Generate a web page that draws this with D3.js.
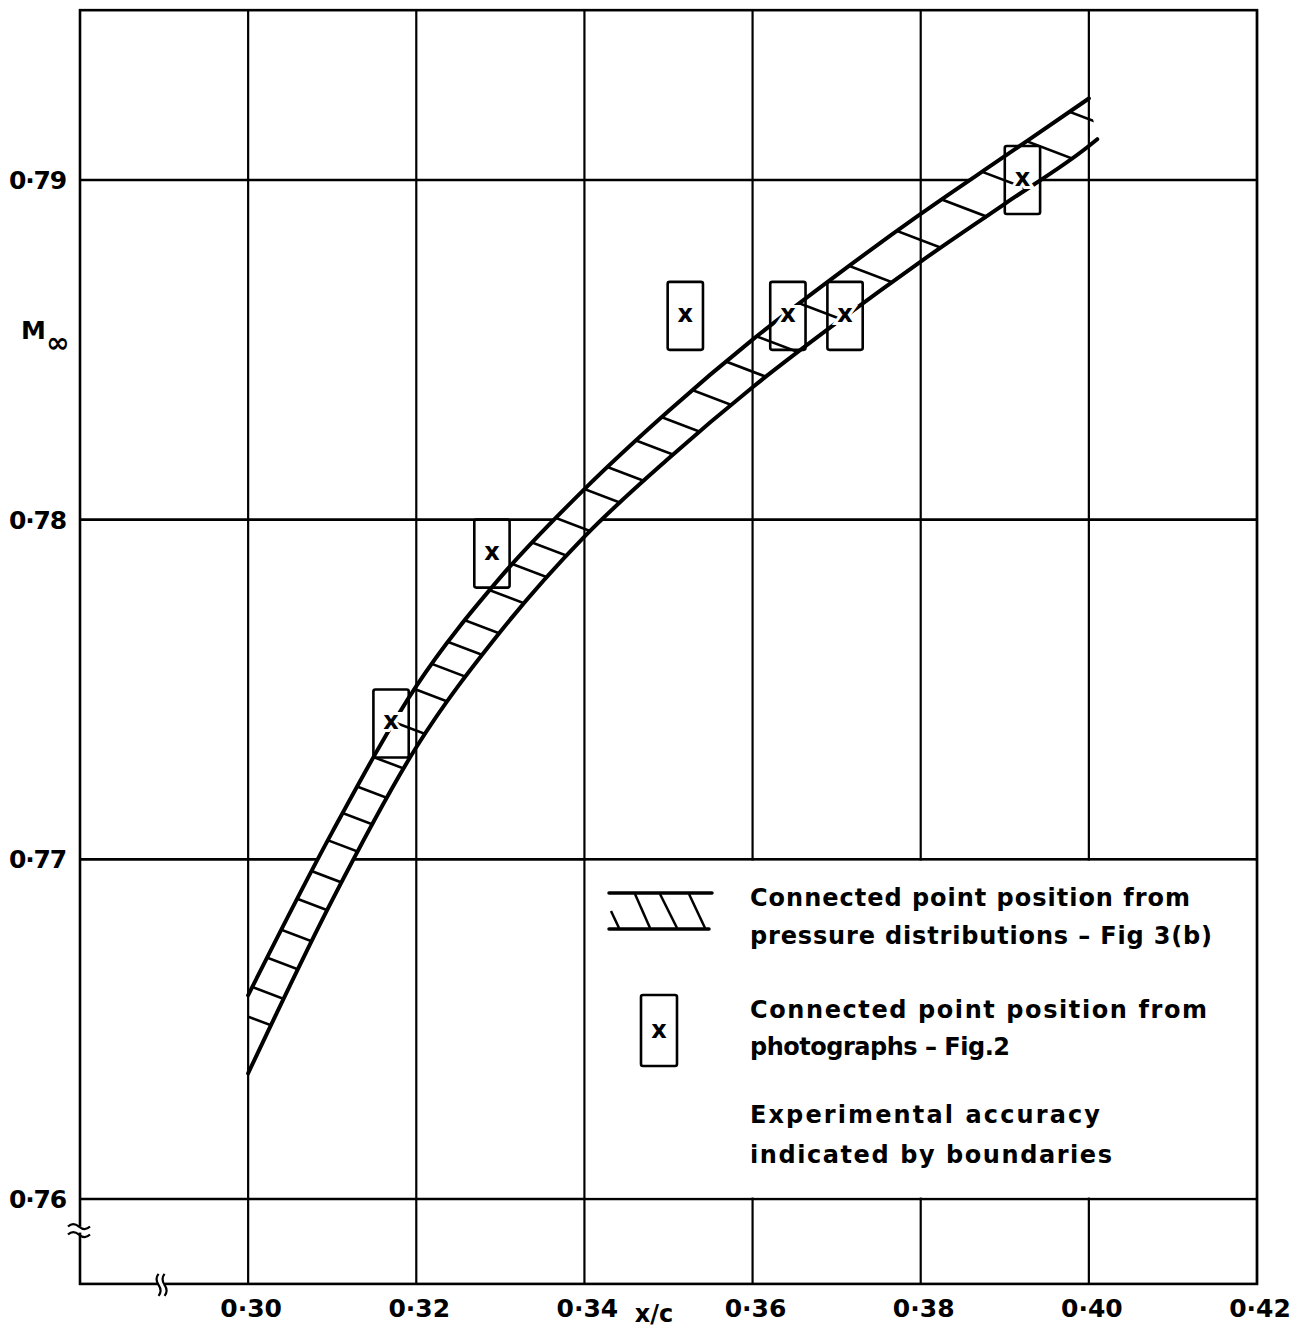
<!DOCTYPE html>
<meta charset="utf-8">
<script src="https://d3js.org/d3.v7.min.js"></script>
<style>
    body { margin: 0; background: #fff; }
    text { font-family: "DejaVu Sans", sans-serif; font-weight: bold; fill: #000; }
</style>
<div id="base"></div>
<script>
    // band from pressure distributions: upper and lower boundary (x/c, M)
    var upperX = [0.30, 0.31, 0.32, 0.33, 0.34, 0.35, 0.36, 0.37, 0.38, 0.39, 0.40];
    var upperM = [0.7660, 0.7708, 0.7751, 0.7783, 0.7809, 0.7832, 0.7853, 0.7872, 0.7890, 0.7907, 0.7924];
    var lowerX = [0.30, 0.31, 0.32, 0.33, 0.34, 0.35, 0.36, 0.37, 0.38, 0.39, 0.40, 0.401];
    var lowerM = [0.7637, 0.7688, 0.7733, 0.7767, 0.7795, 0.7818, 0.7839, 0.7858, 0.7876, 0.7893, 0.7910, 0.7912];

    // points from photographs, box = experimental accuracy
    var photoX = [0.317, 0.329, 0.352, 0.3642, 0.371, 0.3921];
    var photoM = [0.774, 0.779, 0.786, 0.786, 0.786, 0.790];
    var errX = 0.0021, errM = 0.001;

    // where the hatch strokes leave the upper boundary
    var hatchX = [0.2989, 0.3005, 0.3023, 0.3040, 0.3059, 0.3076, 0.3095, 0.3113, 0.3131, 0.3151,
        0.3175, 0.3198, 0.3220, 0.3240, 0.3260, 0.3288, 0.3315, 0.3339, 0.3367, 0.3400, 0.3428,
        0.3462, 0.3492, 0.3529, 0.3569, 0.3605, 0.3656, 0.3715, 0.3772, 0.3825, 0.3873, 0.3926, 0.3977];

    var xTicks = [0.30, 0.32, 0.34, 0.36, 0.38, 0.40, 0.42];
    var xTickLabels = ["0·30", "0·32", "0·34", "0·36", "0·38", "0·40", "0·42"];
    var yTicks = [0.76, 0.77, 0.78, 0.79];
    var yTickLabels = ["0·76", "0·77", "0·78", "0·79"];

    var legendLines = ["Connected point position from", "pressure distributions – Fig 3(b)",
        "Connected point position from", "photographs – Fig.2",
        "Experimental accuracy", "indicated by boundaries"];

    var svg = d3.select("#base")
        .append("svg")
        .attr("width", 1302)
        .attr("height", 1329);

    var x = d3.scaleLinear().domain([0.28, 0.42]).range([80, 1257]);
    var y = d3.scaleLinear().domain([0.76, 0.79]).range([1199, 180]);
    var yLo = 0.7575, yHi = 0.795;

    // layers in drawing order
    var gGridH = svg.append("g"),
        gBand = svg.append("g"),
        gGridV = svg.append("g"),
        gLegBg = svg.append("g"),
        gHatch = svg.append("g"),
        gCurves = svg.append("g"),
        gBoxes = svg.append("g"),
        gFrame = svg.append("g"),
        gText = svg.append("g");

    // grid
    gGridH.selectAll("line").data(yTicks).enter().append("line")
        .attr("x1", x(0.28)).attr("x2", x(0.42))
        .attr("y1", function (d) { return y(d); })
        .attr("y2", function (d) { return y(d); })
        .attr("stroke", "#000").attr("stroke-width", 2.6);

    gGridV.selectAll("line").data(xTicks).enter().append("line")
        .attr("x1", function (d) { return x(d); })
        .attr("x2", function (d) { return x(d); })
        .attr("y1", y(yHi)).attr("y2", y(yLo))
        .attr("stroke", "#000").attr("stroke-width", 2.2);

    // legend background hides the grid in the lower right cell block
    gLegBg.append("rect")
        .attr("x", x(0.34) + 1.5).attr("y", y(0.77) + 1.5)
        .attr("width", x(0.42) - x(0.34) - 3)
        .attr("height", y(0.76) - y(0.77) - 3)
        .attr("fill", "#fff");

    // boundary curves
    var line = d3.line()
        .x(function (d) { return x(d[0]); })
        .y(function (d) { return y(d[1]); })
        .curve(d3.curveMonotoneX);

    var upperPts = upperX.map(function (v, i) { return [v, upperM[i]]; });
    var lowerPts = lowerX.map(function (v, i) { return [v, lowerM[i]]; });

    var upperPath = gCurves.append("path").attr("d", line(upperPts));
    var lowerPath = gCurves.append("path").attr("d", line(lowerPts));
    gCurves.selectAll("path")
        .attr("fill", "none").attr("stroke", "#000")
        .attr("stroke-width", 4).attr("stroke-linecap", "round");

    function sample(node, n) {
        var L = node.getTotalLength(), pts = [];
        for (var i = 0; i <= n; i++) {
            var p = node.getPointAtLength(L * i / n);
            pts.push([p.x, p.y]);
        }
        return pts;
    }

    var up = sample(upperPath.node(), 200);
    var lo = sample(lowerPath.node(), 200).reverse();
    var bandD = d3.line()(up.concat(lo)) + "Z";

    gBand.append("path").attr("d", bandD).attr("fill", "#fff");

    svg.append("defs").append("clipPath").attr("id", "bandClip")
        .append("path").attr("d", bandD);

    // hatching across the band
    var upperAt = d3.scaleLinear().domain(upperX).range(upperM);
    var dl = Math.sqrt(1 + 0.38 * 0.38), ux = 1 / dl, uy = 0.38 / dl;

    gHatch.attr("clip-path", "url(#bandClip)")
        .selectAll("line").data(hatchX).enter().append("line")
        .attr("x1", function (d) { return x(d) - 40 * ux; })
        .attr("y1", function (d) { return y(upperAt(d)) - 40 * uy; })
        .attr("x2", function (d) { return x(d) + 140 * ux; })
        .attr("y2", function (d) { return y(upperAt(d)) + 140 * uy; })
        .attr("stroke", "#000").attr("stroke-width", 2.6);

    // photograph points
    var photos = photoX.map(function (v, i) { return { x: v, m: photoM[i] }; });

    gBoxes.selectAll("rect").data(photos).enter().append("rect")
        .attr("x", function (d) { return x(d.x - errX); })
        .attr("y", function (d) { return y(d.m + errM); })
        .attr("width", function (d) { return x(d.x + errX) - x(d.x - errX); })
        .attr("height", function (d) { return y(d.m - errM) - y(d.m + errM); })
        .attr("rx", 2)
        .attr("fill", "none").attr("stroke", "#000").attr("stroke-width", 2.6);

    gBoxes.selectAll("text").data(photos).enter().append("text")
        .attr("x", function (d) { return x(d.x); })
        .attr("y", function (d) { return y(d.m) + 6; })
        .attr("text-anchor", "middle")
        .attr("font-size", 24)
        .attr("stroke", "#fff").attr("stroke-width", 6)
        .attr("paint-order", "stroke")
        .text("x");

    // frame
    gFrame.append("rect")
        .attr("x", x(0.28)).attr("y", y(yHi))
        .attr("width", x(0.42) - x(0.28))
        .attr("height", y(yLo) - y(yHi))
        .attr("fill", "none").attr("stroke", "#000").attr("stroke-width", 2.6);

    // axis break marks
    var by = y(0.7591), bx = x(0.2897);
    gFrame.append("rect").attr("x", 76).attr("y", by - 3).attr("width", 8).attr("height", 6).attr("fill", "#fff");
    [-4, 4].forEach(function (o) {
        gFrame.append("path")
            .attr("d", "M68," + (by + o + 1) + " q5,-5 11,0 t11,0")
            .attr("fill", "none").attr("stroke", "#000").attr("stroke-width", 2.2);
    });
    gFrame.append("rect").attr("x", bx - 3).attr("y", y(yLo) - 2).attr("width", 6).attr("height", 4).attr("fill", "#fff");
    [-3, 3].forEach(function (o) {
        gFrame.append("path")
            .attr("d", "M" + (bx + o) + "," + (y(yLo) - 10) + " q-4,5 0,11 t0,11")
            .attr("fill", "none").attr("stroke", "#000").attr("stroke-width", 2.2);
    });

    // tick labels
    gText.selectAll(".xt").data(xTicks).enter().append("text")
        .attr("class", "xt")
        .attr("x", function (d) { return x(d) + 3; })
        .attr("y", 1317)
        .attr("text-anchor", "middle")
        .attr("font-size", 25)
        .text(function (d, i) { return xTickLabels[i]; });

    gText.selectAll(".yt").data(yTicks).enter().append("text")
        .attr("class", "yt")
        .attr("x", 66)
        .attr("y", function (d) { return y(d) + 9; })
        .attr("text-anchor", "end")
        .attr("font-size", 25)
        .attr("letter-spacing", -1.2)
        .text(function (d, i) { return yTickLabels[i]; });

    // axis titles
    gText.append("text").attr("x", 21).attr("y", 339).attr("font-size", 25).text("M");
    gText.append("text").attr("x", 46).attr("y", 352).attr("font-size", 28).text("∞");
    gText.append("text").attr("x", 654).attr("y", 1322).attr("text-anchor", "middle")
        .attr("font-size", 24).text("x/c");

    // legend
    var lg = gText.append("g");
    lg.append("line").attr("x1", 609).attr("x2", 712).attr("y1", 893).attr("y2", 893)
        .attr("stroke", "#000").attr("stroke-width", 3.5).attr("stroke-linecap", "round");
    lg.append("line").attr("x1", 609).attr("x2", 709).attr("y1", 929).attr("y2", 929)
        .attr("stroke", "#000").attr("stroke-width", 3.5).attr("stroke-linecap", "round");
    [[611, 911, 619, 928], [635, 894, 650, 928], [660, 894, 677, 928], [689, 894, 705, 928]].forEach(function (s) {
        lg.append("line").attr("x1", s[0]).attr("y1", s[1]).attr("x2", s[2]).attr("y2", s[3])
            .attr("stroke", "#000").attr("stroke-width", 2.5);
    });
    lg.append("rect").attr("x", 641).attr("y", 995).attr("width", 36).attr("height", 71).attr("rx", 2)
        .attr("fill", "none").attr("stroke", "#000").attr("stroke-width", 2.6);
    lg.append("text").attr("x", 659).attr("y", 1038).attr("text-anchor", "middle")
        .attr("font-size", 24).text("x");

    var legY = [906, 944, 1018, 1055, 1123, 1163];
    var legLen = [440, 462, 457, 260, 350, 362];
    lg.selectAll(".lt").data(legendLines).enter().append("text")
        .attr("class", "lt")
        .attr("x", 750)
        .attr("y", function (d, i) { return legY[i]; })
        .attr("font-size", 24)
        .attr("textLength", function (d, i) { return legLen[i]; })
        .attr("lengthAdjust", "spacing")
        .text(function (d) { return d; });
</script>
